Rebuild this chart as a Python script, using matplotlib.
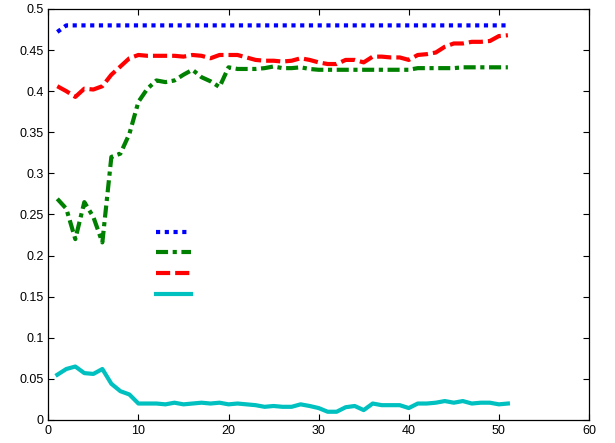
import numpy as np
import matplotlib
matplotlib.use("Agg")
import matplotlib.pyplot as plt
from matplotlib.ticker import FuncFormatter

plt.rcParams['font.family'] = ['Liberation Sans', 'DejaVu Sans']

# x positions 1..51
x = list(range(1, 52))

blue = [0.472] + [0.480] * 50

green = [0.269, 0.257, 0.220, 0.265, 0.247, 0.216, 0.320, 0.324, 0.348, 0.387,
         0.403, 0.413, 0.411, 0.413, 0.420, 0.426, 0.417, 0.412, 0.405, 0.429,
         0.427, 0.427, 0.427, 0.428, 0.430, 0.428, 0.428, 0.429, 0.427, 0.426,
         0.426, 0.426, 0.426, 0.426, 0.426, 0.426, 0.426, 0.426, 0.426, 0.426,
         0.428, 0.428, 0.428, 0.428, 0.428, 0.429, 0.429, 0.429, 0.429, 0.429,
         0.429]

red = [0.406, 0.400, 0.393, 0.403, 0.402, 0.406, 0.420, 0.430, 0.440, 0.444,
       0.443, 0.443, 0.443, 0.443, 0.442, 0.444, 0.443, 0.440, 0.444, 0.444,
       0.444, 0.441, 0.438, 0.437, 0.437, 0.436, 0.437, 0.440, 0.438, 0.435,
       0.433, 0.433, 0.438, 0.438, 0.435, 0.442, 0.442, 0.441, 0.441, 0.438,
       0.444, 0.445, 0.447, 0.454, 0.458, 0.458, 0.460, 0.460, 0.461, 0.467,
       0.468]

cyan = [0.055, 0.062, 0.065, 0.057, 0.056, 0.062, 0.044, 0.035, 0.031, 0.020,
        0.020, 0.020, 0.019, 0.021, 0.019, 0.020, 0.021, 0.020, 0.021, 0.019,
        0.020, 0.019, 0.018, 0.016, 0.017, 0.016, 0.016, 0.019, 0.017, 0.0145,
        0.010, 0.010, 0.0155, 0.017, 0.012, 0.020, 0.018, 0.018, 0.018, 0.0145,
        0.020, 0.020, 0.021, 0.023, 0.021, 0.023, 0.020, 0.021, 0.021, 0.019,
        0.020]

fig = plt.figure(figsize=(6.15, 4.43), dpi=100)
ax = fig.add_axes([0.0785, 0.052, 0.8792, 0.9278])

lw = 3
h1, = ax.plot(x, blue, color='#0000ff', lw=lw, linestyle=(0, (1, 1.1)))
h2, = ax.plot(x, green, color='#008000', lw=lw, linestyle=(0, (2.9, 1.1, 1, 1.1)))
h3, = ax.plot(x, red, color='#ff0000', lw=lw, linestyle=(0, (3.4, 1.2)))
h4, = ax.plot(x, cyan, color='#00c0c0', lw=lw, linestyle='-')

ax.set_xlim(0, 60)
ax.set_ylim(0, 0.5)
ax.set_xticks(np.arange(0, 61, 10))
ax.set_yticks(np.arange(0, 0.51, 0.05))
ax.yaxis.set_major_formatter(FuncFormatter(lambda v, p: '%g' % round(v, 2)))
ax.tick_params(direction='in', length=4.5, width=0.8, top=True, right=True,
               labelsize=9, pad=3.5)
for s in ax.spines.values():
    s.set_linewidth(0.9)

# legend with empty labels, as in the original
ax.legend([h1, h2, h3, h4], ['', '', '', ''], frameon=False,
          loc='center left', bbox_to_anchor=(0.199, 0.38),
          borderaxespad=0, borderpad=0, handlelength=3.15, handletextpad=0,
          fontsize=8, labelspacing=0.98)

fig.savefig('out.png', dpi=100)
